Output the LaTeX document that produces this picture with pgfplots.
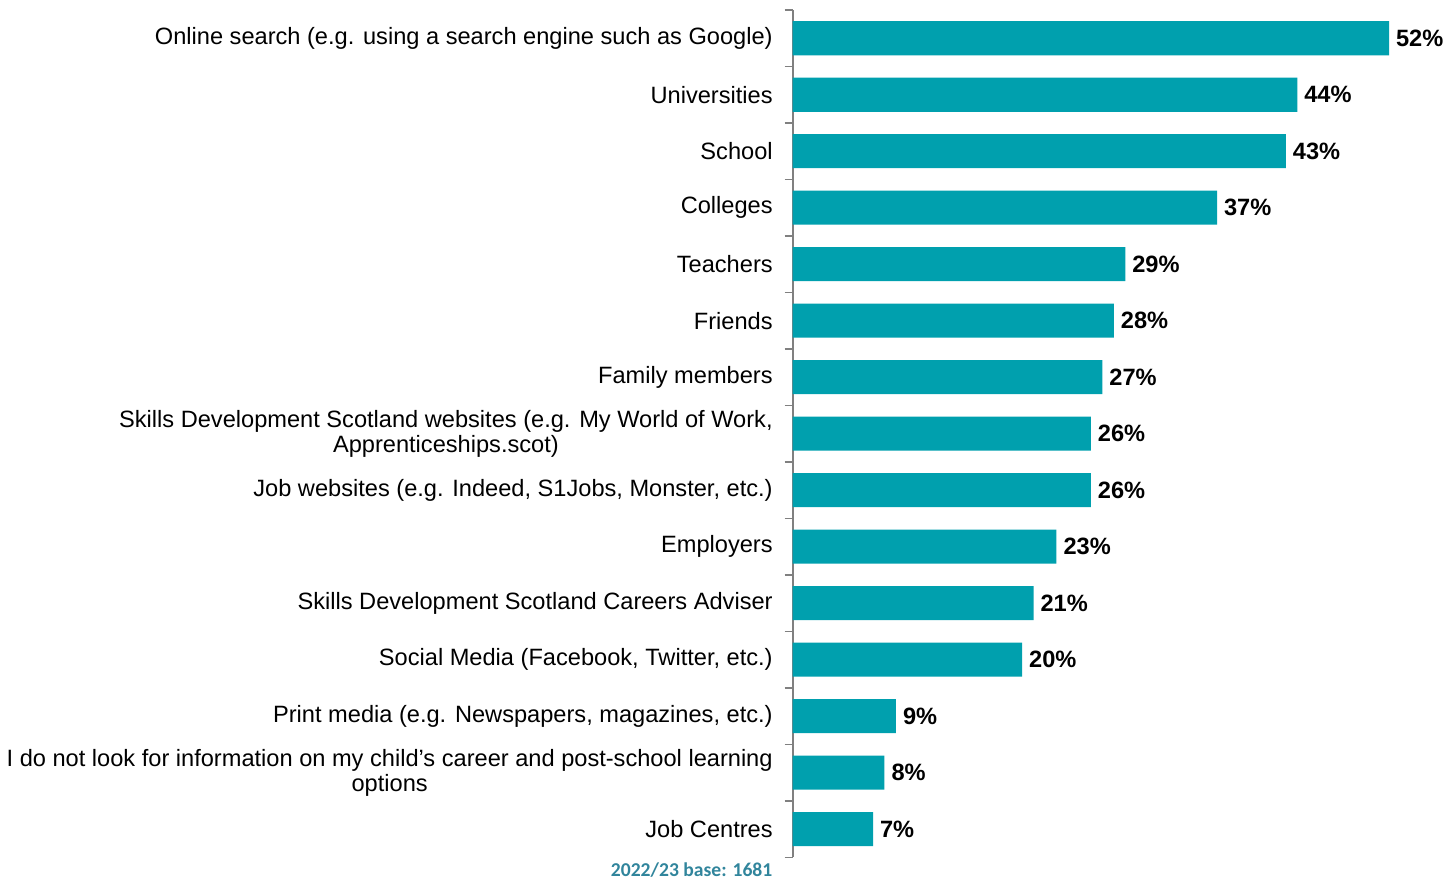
\documentclass[border=0pt]{standalone}
\usepackage{pgfplots}
\pgfplotsset{compat=1.18}
\usepackage{fontspec}
\setmainfont{Liberation Sans}
\newfontfamily\notefont{Carlito}
\definecolor{barteal}{HTML}{00A0AE}
\definecolor{noteteal}{HTML}{31859C}
\begin{document}
\begin{tikzpicture}
\begin{axis}[
    xbar, bar width=17pt,
    scale only axis, width=298pt, height=423.5pt,
    xmin=0, xmax=52, ymin=-0.5, ymax=14.5, y dir=reverse,
    axis x line=none, axis y line*=left,
    axis line style={gray, line width=0.8pt},
    ytick={0,...,14}, major tick length=0pt,
    minor ytick={-0.5,0.5,...,14.5}, minor tick length=4pt,
    tick style={gray, line width=0.8pt}, tick align=outside,
    /pgf/number format/assume math mode=true,
    yticklabels={
        Online search (e.g. using a search engine such as Google),
        Universities, School, Colleges, Teachers, Friends, Family members,
        {Skills Development Scotland websites (e.g. My World of Work,\\Apprenticeships.scot)},
        {Job websites (e.g. Indeed, S1Jobs, Monster, etc.)},
        Employers,
        Skills Development Scotland Careers Adviser,
        {Social Media (Facebook, Twitter, etc.)},
        {Print media (e.g. Newspapers, magazines, etc.)},
        {I do not look for information on my child's career and post-school learning\\options},
        Job Centres},
    yticklabel style={align=center, font=\fontsize{11.8}{12.5}\selectfont, xshift=-6.5pt},
    nodes near coords={\pgfmathprintnumber{\pgfplotspointmeta}\%},
    nodes near coords align=horizontal,
    every node near coord/.append style={font=\fontsize{11.8}{12.5}\selectfont\bfseries},
    clip=false,
]
\addplot[fill=barteal, draw=none] coordinates {
    (52,0) (44,1) (43,2) (37,3) (29,4) (28,5) (27,6) (26,7)
    (26,8) (23,9) (21,10) (20,11) (9,12) (8,13) (7,14)
};
\node[anchor=north east, inner sep=1pt, text=noteteal, font=\notefont\fontsize{9.8}{10}\selectfont\bfseries]
    at ([xshift=-9pt, yshift=-1.5pt]axis description cs:0,0) {2022/23 base: 1681};
\path ([yshift=5pt]axis description cs:0,1) coordinate (topgap);
\end{axis}
\end{tikzpicture}
\end{document}
